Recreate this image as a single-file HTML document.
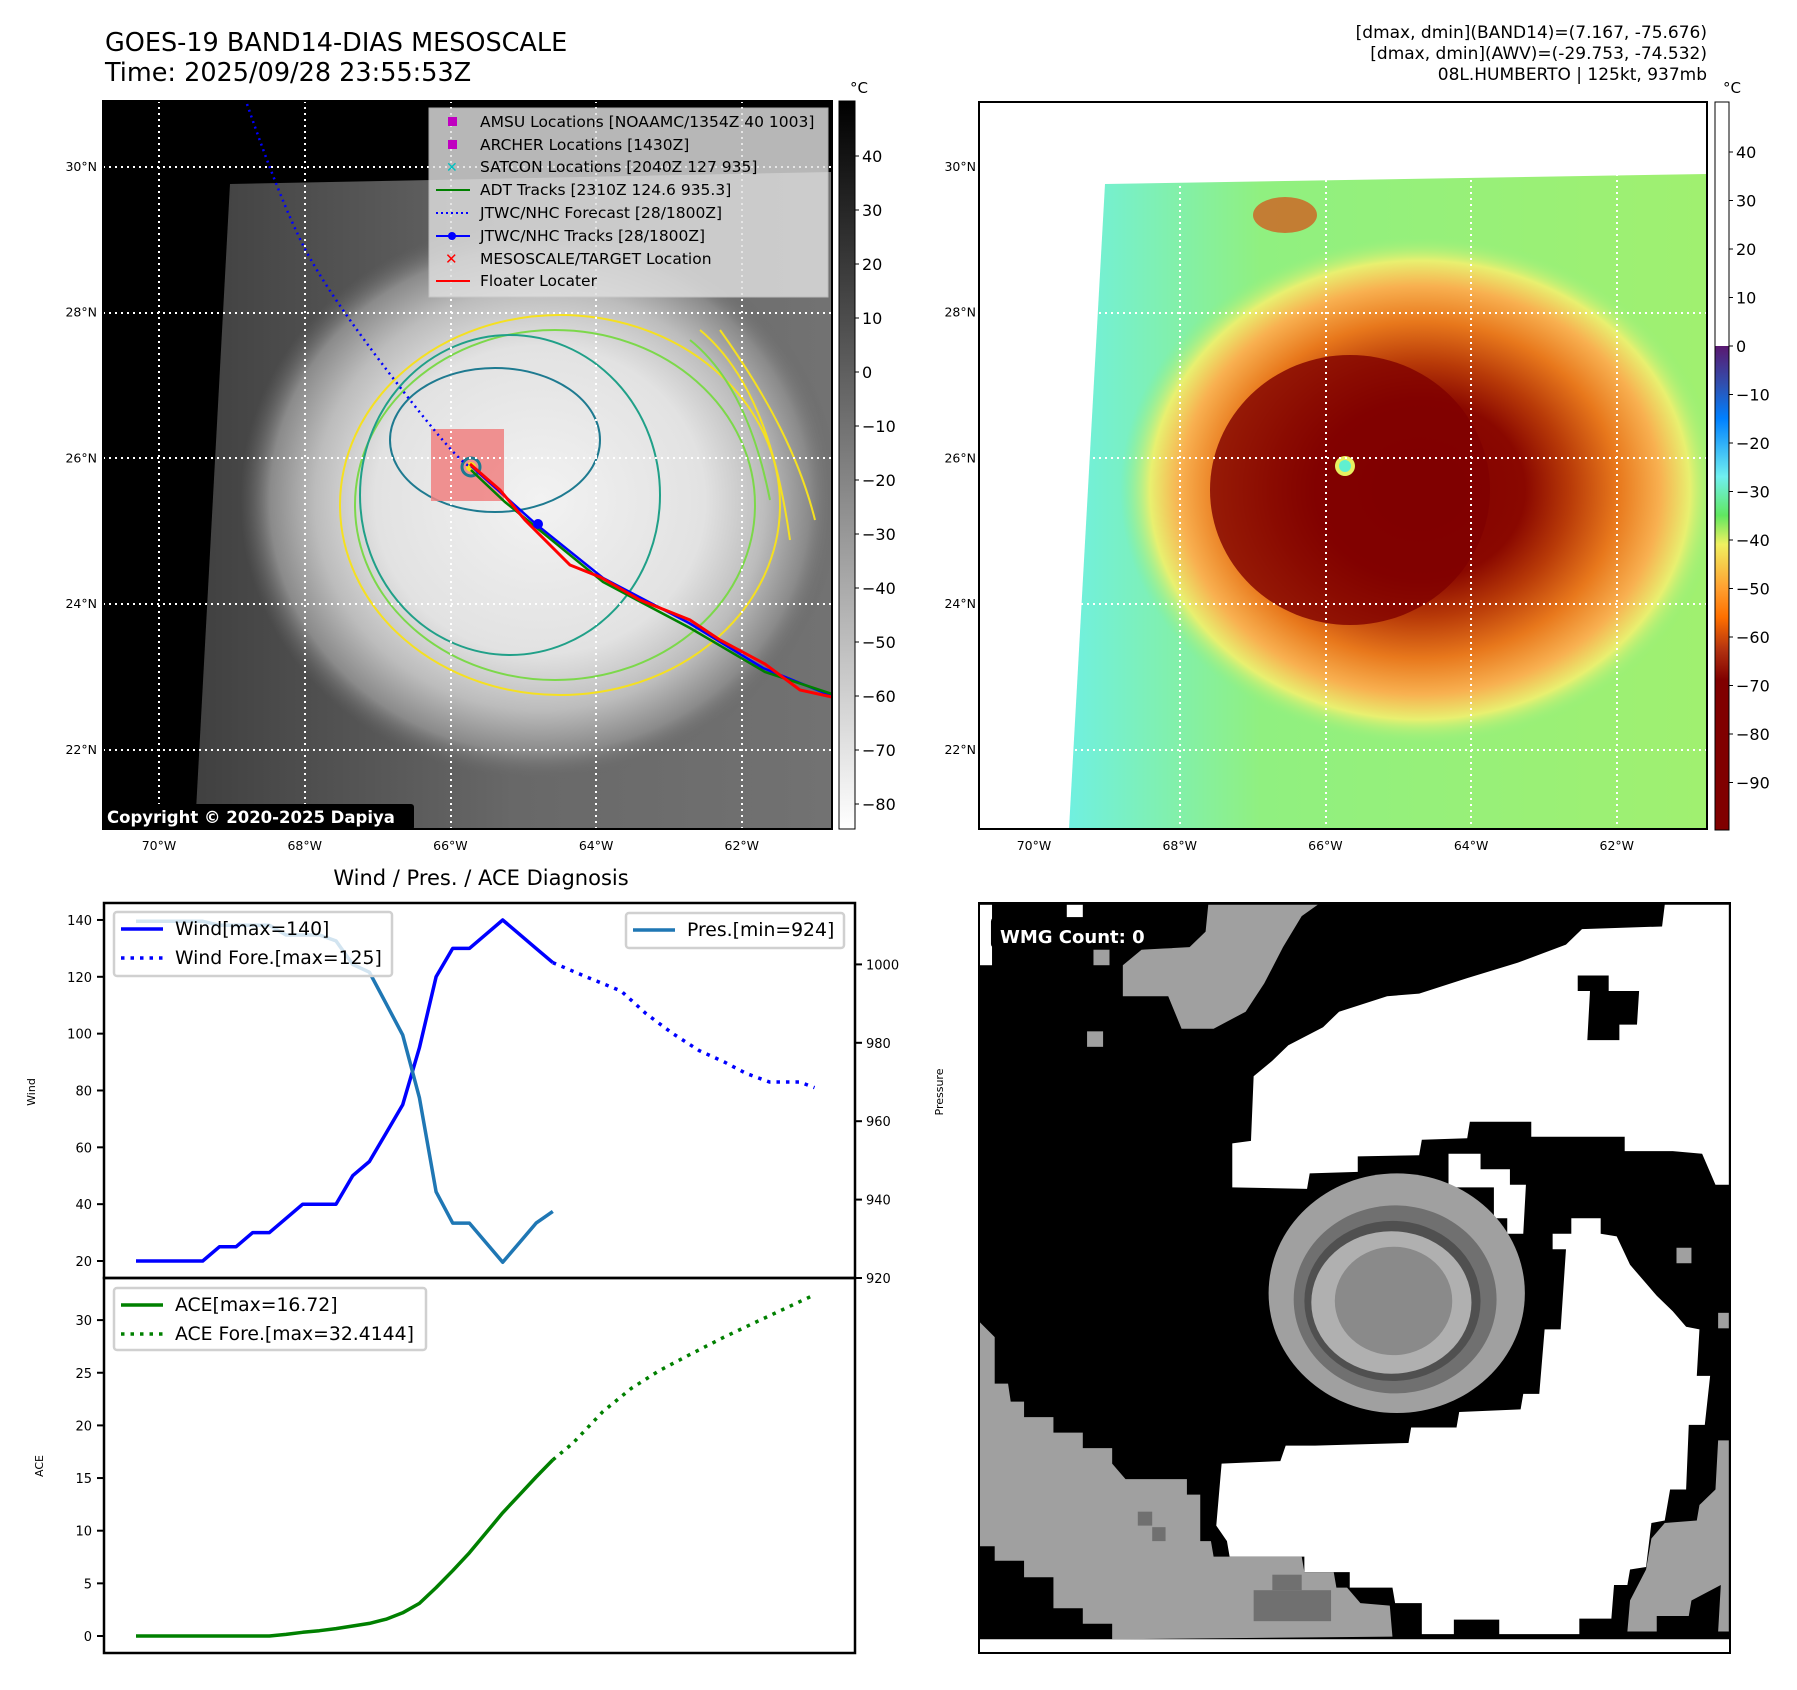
<!DOCTYPE html>
<html><head><meta charset="utf-8"><style>
body{margin:0;background:#fff;}
svg{display:block;font-family:"DejaVu Sans","Liberation Sans",sans-serif;}
</style></head><body>
<svg id="root" width="1797" height="1690" viewBox="0 0 1797 1690" xmlns="http://www.w3.org/2000/svg">
<defs>
<radialGradient id="gStorm" cx="0.5" cy="0.5" r="0.5">
<stop offset="0" stop-color="#f2f2f2"/><stop offset="0.55" stop-color="#e2e2e2"/><stop offset="0.75" stop-color="#bcbcbc"/><stop offset="0.9" stop-color="#8a8a8a"/><stop offset="1" stop-color="#666" stop-opacity="0"/>
</radialGradient>
<linearGradient id="gBg" x1="0" y1="0" x2="1" y2="0"><stop offset="0" stop-color="#404040"/><stop offset="0.5" stop-color="#686868"/><stop offset="1" stop-color="#727272"/></linearGradient>
<linearGradient id="cbGray" x1="0" y1="0" x2="0" y2="1"><stop offset="0" stop-color="#000"/><stop offset="1" stop-color="#fff"/></linearGradient>
<linearGradient id="cbColor" x1="0" y1="0" x2="0" y2="1">
<stop offset="0" stop-color="#5a1870"/><stop offset="0.08" stop-color="#3050b0"/><stop offset="0.15" stop-color="#0080ff"/><stop offset="0.27" stop-color="#70f0f0"/><stop offset="0.35" stop-color="#60e860"/><stop offset="0.41" stop-color="#f0f060"/><stop offset="0.5" stop-color="#ffa030"/><stop offset="0.56" stop-color="#ff7000"/><stop offset="0.63" stop-color="#b03010"/><stop offset="0.69" stop-color="#800000"/><stop offset="1" stop-color="#800000"/>
</linearGradient>
<radialGradient id="gColor" cx="0.5" cy="0.5" r="0.5">
<stop offset="0" stop-color="#800000"/><stop offset="0.35" stop-color="#8a0800"/><stop offset="0.5" stop-color="#b83a08"/><stop offset="0.66" stop-color="#e8781c"/><stop offset="0.8" stop-color="#f8b050"/><stop offset="0.9" stop-color="#e8f070"/><stop offset="1" stop-color="#90f080" stop-opacity="0"/>
</radialGradient>
<linearGradient id="gColBg" x1="0" y1="0" x2="1" y2="0"><stop offset="0" stop-color="#70f0e0"/><stop offset="0.3" stop-color="#90f080"/><stop offset="1" stop-color="#a0f070"/></linearGradient>
<clipPath id="clipL"><rect x="103" y="101" width="729" height="728"/></clipPath>
<clipPath id="clipR"><rect x="979" y="102" width="728" height="727"/></clipPath>
<clipPath id="clipW"><rect x="979" y="903" width="751" height="750"/></clipPath>
</defs>

<!-- Titles -->
<text x="105" y="51" font-size="25.5">GOES-19 BAND14-DIAS MESOSCALE</text>
<text x="105" y="81" font-size="25.5">Time: 2025/09/28 23:55:53Z</text>
<g font-size="17" text-anchor="end">
<text x="1707" y="38">[dmax, dmin](BAND14)=(7.167, -75.676)</text>
<text x="1707" y="59">[dmax, dmin](AWV)=(-29.753, -74.532)</text>
<text x="1707" y="80">08L.HUMBERTO | 125kt, 937mb</text>
</g>

<!-- Top-left map -->
<g clip-path="url(#clipL)">
<rect x="103" y="101" width="729" height="728" fill="#000"/>
<polygon points="230,184 832,172 832,829 195,829" fill="url(#gBg)"/>
<ellipse cx="540" cy="500" rx="300" ry="280" fill="url(#gStorm)"/>
<g fill="none" stroke-width="2">
<ellipse cx="560" cy="505" rx="220" ry="190" stroke="#f5e020"/>
<ellipse cx="555" cy="505" rx="200" ry="175" stroke="#7cd84a"/>
<ellipse cx="510" cy="495" rx="150" ry="160" stroke="#20a088"/>
<ellipse cx="495" cy="440" rx="105" ry="72" stroke="#1e7a90"/>
<path d="M700 330 C760 380 780 470 790 540" stroke="#f5e020"/>
<path d="M720 330 C770 400 800 460 815 520" stroke="#f5e020"/>
<path d="M690 340 C740 380 760 450 770 500" stroke="#7cd84a"/>
</g>
<rect x="431" y="429" width="73" height="72" fill="#f08080" opacity="0.85"/>
<circle cx="471" cy="467" r="9" fill="none" stroke="#1e7a90" stroke-width="3"/>
<circle cx="471" cy="467" r="5" fill="#f5e020"/>
<g stroke="#fff" stroke-width="2" stroke-dasharray="2,4">
<line x1="159" y1="101" x2="159" y2="829"/><line x1="305" y1="101" x2="305" y2="829"/><line x1="451" y1="101" x2="451" y2="829"/><line x1="596" y1="101" x2="596" y2="829"/><line x1="742" y1="101" x2="742" y2="829"/>
<line x1="103" y1="167" x2="832" y2="167"/><line x1="103" y1="313" x2="832" y2="313"/><line x1="103" y1="458" x2="832" y2="458"/><line x1="103" y1="604" x2="832" y2="604"/><line x1="103" y1="750" x2="832" y2="750"/>
</g>
<path d="M247 104 Q280 200 304 247 T396 382 T471 466" fill="none" stroke="#0000ff" stroke-width="2.5" stroke-dasharray="2,4"/>
<polyline points="471,466 537,525 603,578 689,623 763,668 832,696" fill="none" stroke="#0000ff" stroke-width="2.5"/>
<polyline points="471,470 505,502 537,528 603,582 690,628 765,672 832,694" fill="none" stroke="#008000" stroke-width="2.5"/>
<polyline points="470,464 500,490 525,520 570,565 600,577 640,600 690,620 720,640 765,664 800,690 832,697" fill="none" stroke="#ff0000" stroke-width="3"/>
<circle cx="538" cy="524" r="5" fill="#0000ff"/>
<g>
<rect x="429" y="108" width="399" height="189" fill="#e0e0e0" opacity="0.82" stroke="#ccc"/>
<g font-size="15.5" fill="#000">
<rect x="448" y="117" width="9" height="9" fill="#c000c0"/><text x="480" y="127">AMSU Locations [NOAAMC/1354Z 40 1003]</text>
<rect x="448" y="140" width="9" height="9" fill="#c000c0"/><text x="480" y="150">ARCHER Locations [1430Z]</text>
<text x="446" y="172" fill="#00c0c0" font-size="14">✕</text><text x="480" y="172">SATCON Locations [2040Z 127 935]</text>
<line x1="436" y1="190" x2="470" y2="190" stroke="#008000" stroke-width="2"/><text x="480" y="195">ADT Tracks [2310Z 124.6 935.3]</text>
<line x1="436" y1="213" x2="470" y2="213" stroke="#0000ff" stroke-width="2" stroke-dasharray="2,3"/><text x="480" y="218">JTWC/NHC Forecast [28/1800Z]</text>
<line x1="436" y1="236" x2="470" y2="236" stroke="#0000ff" stroke-width="2"/><circle cx="452" cy="236" r="4" fill="#0000ff"/><text x="480" y="241">JTWC/NHC Tracks [28/1800Z]</text>
<text x="445" y="264" fill="#ff0000" font-size="15" font-weight="bold">✕</text><text x="480" y="264">MESOSCALE/TARGET Location</text>
<line x1="436" y1="281" x2="470" y2="281" stroke="#ff0000" stroke-width="2"/><text x="480" y="286">Floater Locater</text>
</g></g>
<rect x="102" y="804" width="312" height="26" rx="3" fill="#000"/>
<text x="107" y="823" fill="#fff" font-size="16.5" font-weight="bold">Copyright © 2020-2025 Dapiya</text>
</g>
<rect x="103" y="101" width="729" height="728" fill="none" stroke="#000" stroke-width="2"/>
<g>
<rect x="839" y="101" width="16" height="728" fill="url(#cbGray)" stroke="#000" stroke-width="1"/>
<text x="850" y="93" font-size="15">°C</text>
<g font-size="16" id="cbL"></g>
</g>
<g font-size="12.5" id="mapLabelsL"></g>

<!-- Top-right map -->
<g clip-path="url(#clipR)">
<rect x="979" y="102" width="728" height="727" fill="#fff"/>
<polygon points="1105,184 1707,174 1707,829 1069,829" fill="url(#gColBg)"/>
<ellipse cx="1420" cy="490" rx="300" ry="255" fill="url(#gColor)"/>
<ellipse cx="1350" cy="490" rx="140" ry="135" fill="#800000" opacity="0.8"/>
<ellipse cx="1285" cy="215" rx="32" ry="18" fill="#d06020" opacity="0.8"/>
<circle cx="1345" cy="466" r="10" fill="#e8f060"/><circle cx="1345" cy="466" r="6" fill="#60f0d0"/>
<g stroke="#fff" stroke-width="2" stroke-dasharray="2,4">
<line x1="1180" y1="102" x2="1180" y2="829"/><line x1="1326" y1="102" x2="1326" y2="829"/><line x1="1471" y1="102" x2="1471" y2="829"/><line x1="1617" y1="102" x2="1617" y2="829"/>
<line x1="979" y1="313" x2="1707" y2="313"/><line x1="979" y1="458" x2="1707" y2="458"/><line x1="979" y1="604" x2="1707" y2="604"/><line x1="979" y1="750" x2="1707" y2="750"/>
</g>
</g>
<rect x="979" y="102" width="728" height="727" fill="none" stroke="#000" stroke-width="2"/>
<g>
<rect x="1715" y="102" width="14" height="244" fill="#fff"/>
<rect x="1715" y="346" width="14" height="484" fill="url(#cbColor)"/>
<rect x="1715" y="102" width="14" height="728" fill="none" stroke="#000" stroke-width="1"/>
<text x="1723" y="93" font-size="15">°C</text>
<g font-size="16" id="cbR"></g>
</g>
<g font-size="12.5" id="mapLabelsR"></g>

<!-- Bottom-left chart -->
<text x="481" y="885" font-size="21" text-anchor="middle">Wind / Pres. / ACE Diagnosis</text>
<g id="chart"></g>

<!-- Bottom-right WMG -->
<g clip-path="url(#clipW)">
<g transform="translate(960,880) scale(0.5339,0.5165)">
<rect x="36" y="45" width="1406" height="1452" fill="#000"/>
<rect x="36" y="1470" width="1406" height="27" fill="#fff"/>
<rect x="36" y="48" width="24" height="117" fill="#fff"/><rect x="200" y="48" width="30" height="24" fill="#fff"/>
<polygon fill="#fff" points="510,595 510,510 545,505 550,380 585,350 615,320 680,285 710,255 800,225 860,220 950,190 1045,160 1135,125 1165,95 1315,90 1320,48 1440,48 1440,590 1415,590 1390,530 1335,525 1245,525 1245,497 1070,497 1070,468 955,468 950,500 865,503 860,533 745,535 745,565 655,568 650,598"/>
<polygon fill="#000" points="1157,185 1215,185 1215,215 1272,215 1268,280 1235,280 1235,310 1175,310 1180,215 1157,215"/>
<polygon fill="#fff" points="915,530 975,530 975,560 1030,560 1030,590 1060,590 1055,685 1025,685 1025,655 1000,655 1000,595 915,595"/>
<polygon fill="#fff" points="480,1250 490,1130 600,1125 610,1095 665,1095 840,1090 845,1060 930,1060 935,1030 1050,1025 1055,995 1085,995 1095,870 1125,870 1135,715 1110,715 1110,685 1145,685 1145,655 1200,655 1200,685 1230,690 1255,745 1280,775 1305,805 1335,835 1360,865 1385,870 1380,960 1405,960 1395,1055 1365,1055 1360,1180 1330,1180 1320,1240 1295,1245 1285,1330 1255,1335 1250,1365 1225,1365 1220,1430 1160,1430 1160,1460 1010,1460 1010,1432 925,1432 925,1460 865,1460 865,1400 815,1400 810,1370 730,1370 730,1340 645,1340 645,1310 505,1310 500,1280"/>
<g fill="#a0a0a0">
<polygon points="465,48 670,48 640,70 605,130 570,200 535,255 475,288 415,288 390,225 305,225 305,165 340,135 430,130 460,100"/>
<rect x="250" y="135" width="30" height="30"/><rect x="238" y="293" width="30" height="30"/><rect x="1342" y="712" width="28" height="30"/><rect x="1420" y="838" width="20" height="30"/>
<polygon points="36,855 65,885 65,975 90,975 95,1010 120,1010 120,1040 175,1040 175,1070 230,1070 230,1100 285,1100 285,1130 310,1160 425,1160 425,1190 450,1190 450,1280 470,1280 475,1310 640,1310 645,1340 700,1340 705,1370 725,1370 750,1400 805,1405 810,1465 285,1470 285,1440 230,1440 230,1410 175,1410 175,1350 120,1350 120,1318 65,1318 65,1290 36,1290"/>
<polygon points="1420,1085 1440,1085 1440,1455 1250,1455 1255,1395 1285,1335 1295,1275 1320,1245 1380,1240 1385,1210 1415,1180"/>
<ellipse cx="818" cy="800" rx="240" ry="232"/>
</g>
<polygon fill="#000" points="1305,1425 1365,1425 1370,1395 1425,1365 1420,1455 1305,1455"/>
<g fill="#707070"><rect x="585" y="1345" width="55" height="30"/><rect x="550" y="1375" width="145" height="60"/><rect x="333" y="1223" width="27" height="27"/><rect x="360" y="1253" width="25" height="27"/></g>
<ellipse cx="815" cy="812" rx="190" ry="182" fill="#707070"/>
<ellipse cx="810" cy="815" rx="165" ry="155" fill="#505050"/>
<ellipse cx="808" cy="818" rx="150" ry="138" fill="#b0b0b0"/>
<ellipse cx="812" cy="815" rx="110" ry="105" fill="#8a8a8a"/>
<rect x="58" y="72" width="347" height="60" rx="8" fill="#000"/>
</g>
<text x="1000" y="943" fill="#fff" font-size="18" font-weight="bold">WMG Count: 0</text>
</g>
<rect x="979" y="903" width="751" height="750" fill="none" stroke="#000" stroke-width="2"/>
</svg>
<script>
// ---- chart data ----
const obsIndex = [0,1,2,3,4,5,6,7,8,9,10,11,12,13,14,15,16,17,18,19,20,21,22,23,24,25];
const windObs = [20,20,20,20,20,25,25,30,30,35,40,40,40,50,55,65,75,95,120,130,130,135,140,135,130,125];
const presObs = [1011,1011,1011,1011,1011,1010,1010,1010,1010,1007.5,1007.5,1007.5,1006,1000,998,990,982,966,942,934,934,929,924,929,934,937];
const aceObs = [0,0,0,0,0,0,0,0,0,0.15,0.35,0.5,0.7,0.95,1.2,1.6,2.2,3.1,4.6,6.2,7.9,9.8,11.7,13.4,15.1,16.72];
const windForeIndex = [25,27,29.1,30.6,32.2,33.8,35.3,36.6,38,39.8,40.7];
const windFore = [125,120,115,107,100,94,90,86,83,83,81];
const aceForeIndex = [25,26.2,28,29.7,31.4,33.2,35.3,37.3,40.7];
const aceFore = [16.72,18.3,21.3,23.5,25.2,26.7,28.4,29.9,32.4];
const windTicks = [20,40,60,80,100,120,140];
const presTicks = [920,940,960,980,1000];
const aceTicks = [0,5,10,15,20,25,30];
const cbGrayTicks = [40,30,20,10,0,-10,-20,-30,-40,-50,-60,-70,-80];
const cbColorTicks = [40,30,20,10,0,-10,-20,-30,-40,-50,-60,-70,-80,-90];
const lonTicks = [70,68,66,64,62];
const latTicks = [30,28,26,24,22];

const NS='http://www.w3.org/2000/svg';
function mk(parent,tag,attrs,txt){const e=document.createElementNS(NS,tag);for(const k in attrs)e.setAttribute(k,attrs[k]);if(txt!==undefined)e.textContent=txt;parent.appendChild(e);return e;}
const X=i=>136+i*16.67;
const YW=w=>1261-(w-20)*2.842;
const YP=p=>1278-(p-920)*3.92;
const YA=a=>1636-a*10.53;
const chart=document.getElementById('chart');

let f1=mk(chart,'rect',{x:104,y:903,width:751,height:375,fill:'none',stroke:'#000','stroke-width':2.5});


let f2=mk(chart,'rect',{x:104,y:1278,width:751,height:375,fill:'none',stroke:'#000','stroke-width':2.5});



windTicks.forEach(t=>{const y=YW(t);mk(chart,'line',{x1:97,y1:y,x2:104,y2:y,stroke:'#000','stroke-width':2});
const l=mk(chart,'text',{x:92,y:y+5,'font-size':13,'text-anchor':'end'},t);

});
presTicks.forEach(t=>{const y=YP(t);mk(chart,'line',{x1:855,y1:y,x2:862,y2:y,stroke:'#000','stroke-width':2});
const l=mk(chart,'text',{x:866,y:y+5,'font-size':13},t);

});
aceTicks.forEach(t=>{const y=YA(t);mk(chart,'line',{x1:97,y1:y,x2:104,y2:y,stroke:'#000','stroke-width':2});
const l=mk(chart,'text',{x:92,y:y+5,'font-size':13,'text-anchor':'end'},t);

});
let yl1=mk(chart,'text',{x:0,y:0,'font-size':11,'text-anchor':'middle',transform:'translate(35,1092) rotate(-90)'},'Wind');


let yl2=mk(chart,'text',{x:0,y:0,'font-size':11,'text-anchor':'middle',transform:'translate(43,1466) rotate(-90)'},'ACE');


let yl3=mk(chart,'text',{x:0,y:0,'font-size':11,'text-anchor':'middle',transform:'translate(943,1092) rotate(-90)'},'Pressure');



function pts(xs,ys,fy){return xs.map((x,i)=>X(x).toFixed(1)+','+fy(ys[i]).toFixed(1)).join(' ');}
let ln;
ln=mk(chart,'polyline',{points:pts(obsIndex,windObs,YW),fill:'none',stroke:'#0000ff','stroke-width':3.5,'stroke-linejoin':'round'});


ln=mk(chart,'polyline',{points:pts(windForeIndex,windFore,YW),fill:'none',stroke:'#0000ff','stroke-width':3.5,'stroke-dasharray':'3.5,6'});


ln=mk(chart,'polyline',{points:pts(obsIndex,presObs,YP),fill:'none',stroke:'#1f77b4','stroke-width':3.5,'stroke-linejoin':'round'});


ln=mk(chart,'polyline',{points:pts(obsIndex,aceObs,YA),fill:'none',stroke:'#008000','stroke-width':3.5,'stroke-linejoin':'round'});


ln=mk(chart,'polyline',{points:pts(aceForeIndex,aceFore,YA),fill:'none',stroke:'#008000','stroke-width':3.5,'stroke-dasharray':'3.5,6'});



function legend(name,x,y,w,h,items){const g=mk(chart,'g',{});


mk(g,'rect',{x:x,y:y,width:w,height:h,rx:3,fill:'#fff','fill-opacity':0.8,stroke:'#d0d0d0','stroke-width':2.5});
items.forEach((it,i)=>{const cy=y+17+i*29;mk(g,'line',{x1:x+7,y1:cy,x2:x+49,y2:cy,stroke:it[1],'stroke-width':3.5,'stroke-dasharray':it[2]?'3.5,6':'none'});
mk(g,'text',{x:x+61,y:cy+6,'font-size':18.8},it[0]);});}
legend('wind-legend',114,912,278,64,[['Wind[max=140]','#0000ff',0],['Wind Fore.[max=125]','#0000ff',1]]);
legend('pressure-legend',626,913,218,35,[['Pres.[min=924]','#1f77b4',0]]);
legend('ace-legend',114,1288,312,62,[['ACE[max=16.72]','#008000',0],['ACE Fore.[max=32.4144]','#008000',1]]);

const cbL=document.getElementById('cbL');
cbGrayTicks.forEach(t=>{const y=156+(40-t)*5.4;mk(cbL,'line',{x1:855,y1:y,x2:859,y2:y,stroke:'#000'});const l=mk(cbL,'text',{x:862,y:y+6},String(t).replace('-','\u2212'));

});
const cbR=document.getElementById('cbR');
cbColorTicks.forEach(t=>{const y=346+(0-t)*4.85;mk(cbR,'line',{x1:1729,y1:y,x2:1733,y2:y,stroke:'#000'});const l=mk(cbR,'text',{x:1736,y:y+6},String(t).replace('-','\u2212'));

});
function mapLabels(id,x0,latX){const g=document.getElementById(id);
lonTicks.forEach((d,i)=>{const l=mk(g,'text',{x:x0+i*145.7,y:850,'text-anchor':'middle'},d+'°W');

});
latTicks.forEach((d,i)=>{const l=mk(g,'text',{x:latX,y:171+i*145.7,'text-anchor':'end'},d+'°N');

});}
mapLabels('mapLabelsL',159,97);
mapLabels('mapLabelsR',1034,976);
</script>
</body></html>
